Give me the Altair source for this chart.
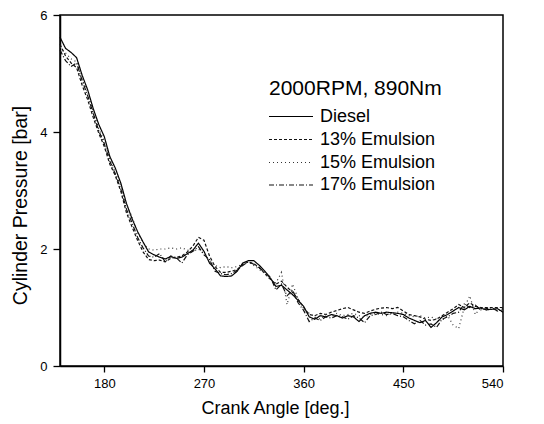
import altair as alt
import pandas as pd

angle = [140, 145, 150, 155, 160, 165, 170, 175, 180, 185, 190, 195, 200, 205, 210, 215,
         220, 225, 230, 235, 240, 245, 250, 255, 260, 265, 270, 275, 280, 285, 290, 295,
         300, 305, 310, 315, 320, 325, 330, 335, 340, 345, 350, 355, 360, 365, 370, 375,
         380, 385, 390, 395, 400, 405, 410, 415, 420, 425, 430, 435, 440, 445, 450, 455,
         460, 465, 470, 475, 480, 485, 490, 495, 500, 505, 510, 515, 520, 525, 530, 535, 540]

diesel = [5.62, 5.43, 5.36, 5.27, 4.97, 4.72, 4.40, 4.13, 3.92, 3.58, 3.38, 3.12, 2.78, 2.52, 2.30, 2.12,
          1.95, 1.90, 1.86, 1.83, 1.87, 1.84, 1.86, 1.92, 1.98, 2.10, 1.96, 1.76, 1.66, 1.54, 1.53, 1.54,
          1.62, 1.76, 1.80, 1.80, 1.72, 1.62, 1.50, 1.36, 1.38, 1.30, 1.22, 1.12, 1.02, 0.84, 0.80, 0.86,
          0.84, 0.88, 0.86, 0.82, 0.86, 0.84, 0.76, 0.86, 0.90, 0.92, 0.90, 0.92, 0.91, 0.90, 0.88, 0.82,
          0.78, 0.74, 0.78, 0.66, 0.74, 0.84, 0.88, 0.94, 1.00, 0.96, 1.02, 0.98, 0.99, 0.96, 0.97, 0.98, 0.92]

emul13 = [5.50, 5.30, 5.18, 5.10, 4.80, 4.55, 4.25, 3.98, 3.75, 3.45, 3.25, 2.98, 2.62, 2.38, 2.15, 1.95,
          1.82, 1.80, 1.81, 1.78, 1.84, 1.86, 1.88, 1.95, 2.05, 2.20, 2.15, 1.88, 1.70, 1.60, 1.60, 1.62,
          1.65, 1.74, 1.78, 1.75, 1.68, 1.58, 1.48, 1.40, 1.45, 1.35, 1.26, 1.14, 1.00, 0.88, 0.86, 0.90,
          0.88, 0.92, 0.95, 0.98, 1.00, 0.96, 0.92, 0.90, 0.94, 0.97, 0.99, 1.00, 0.98, 1.00, 0.94, 0.88,
          0.86, 0.84, 0.80, 0.78, 0.80, 0.86, 0.92, 0.98, 1.05, 1.00, 1.08, 1.02, 1.00, 1.00, 1.00, 1.00, 1.00]

emul15 = [5.45, 5.35, 5.25, 5.20, 4.90, 4.68, 4.35, 4.05, 3.85, 3.55, 3.30, 3.08, 2.75, 2.55, 2.28, 2.10,
          2.00, 1.98, 2.00, 2.00, 2.02, 2.00, 2.02, 1.98, 1.96, 2.00, 1.92, 1.80, 1.72, 1.68, 1.70, 1.68,
          1.70, 1.74, 1.78, 1.72, 1.65, 1.58, 1.48, 1.42, 1.60, 1.05, 1.40, 1.15, 0.98, 0.90, 0.84, 0.80,
          0.88, 0.85, 0.90, 0.86, 0.88, 0.90, 0.86, 0.84, 0.88, 0.90, 0.88, 0.86, 0.90, 0.92, 0.90, 0.86,
          0.84, 0.86, 0.82, 0.84, 0.80, 0.78, 0.86, 0.70, 0.64, 1.00, 1.20, 0.88, 1.00, 0.96, 0.98, 0.94, 0.96]

emul17 = [5.40, 5.22, 5.12, 5.18, 4.88, 4.62, 4.32, 4.02, 3.80, 3.50, 3.28, 3.02, 2.68, 2.45, 2.20, 2.02,
          1.88, 1.86, 1.92, 1.78, 1.88, 1.85, 1.76, 1.90, 1.96, 2.04, 1.90, 1.82, 1.62, 1.58, 1.56, 1.58,
          1.64, 1.72, 1.78, 1.74, 1.68, 1.60, 1.52, 1.30, 1.40, 1.20, 1.30, 1.08, 0.95, 0.76, 0.82, 0.78,
          0.84, 0.82, 0.86, 0.84, 0.80, 0.86, 0.82, 0.74, 0.86, 0.88, 0.92, 0.88, 0.90, 0.86, 0.84, 0.78,
          0.72, 0.78, 0.70, 0.72, 0.66, 0.80, 0.84, 0.90, 0.92, 1.06, 1.00, 1.04, 0.96, 0.98, 1.00, 0.94, 0.98]

series_names = ["Diesel", "13% Emulsion", "15% Emulsion", "17% Emulsion"]
series_values = [diesel, emul13, emul15, emul17]
dashes = [[1, 0], [3, 2], [1, 3], [5, 2, 1, 2]]
colors = ["#000000", "#111111", "#333333", "#111111"]

x_ticks = [180, 270, 360, 450, 540]
y_ticks = [0, 2, 4, 6]
legend_title = "2000RPM, 890Nm"

rows = []
for name, vals in zip(series_names, series_values):
    for a, p in zip(angle, vals):
        rows.append({"angle": a, "pressure": p, "fuel": name})
df = pd.DataFrame(rows)

FONT = "Liberation Sans"

lines = alt.Chart(df).mark_line(strokeWidth=1.2).encode(
    x=alt.X("angle:Q", scale=alt.Scale(domain=[140, 540], nice=False, zero=False),
            axis=alt.Axis(values=x_ticks, title="Crank Angle [deg.]", grid=False,
                          tickSize=6, labelPadding=5, labelFontSize=13, titleFontSize=18,
                          titlePadding=9, titleFontWeight="normal", titleX=215)),
    y=alt.Y("pressure:Q", scale=alt.Scale(domain=[0, 6], nice=False),
            axis=alt.Axis(values=y_ticks, title="Cylinder Pressure [bar]", grid=False,
                          tickSize=7, labelPadding=6, labelFontSize=13, titleFontSize=19.5,
                          titlePadding=9, titleFontWeight="normal", titleY=190)),
    strokeDash=alt.StrokeDash("fuel:N", scale=alt.Scale(domain=series_names, range=dashes), legend=None),
    color=alt.Color("fuel:N", scale=alt.Scale(domain=series_names, range=colors), legend=None),
    detail="fuel:N",
    order="angle:Q",
)

layers = [lines]

title_df = pd.DataFrame({"t": [legend_title]})
layers.append(alt.Chart(title_df).mark_text(align="left", baseline="middle", fontSize=21, font=FONT,
                                            color="black").encode(
    x=alt.value(209), y=alt.value(74), text="t:N"))

row_y = [101.5, 124.5, 147.5, 170]
for name, dash, col, yy in zip(series_names, dashes, colors, row_y):
    ldf = pd.DataFrame({"name": [name]})
    layers.append(alt.Chart(ldf).mark_rule(strokeWidth=1.1, strokeDash=dash, color=col).encode(
        x=alt.value(209), x2=alt.value(253), y=alt.value(yy)))
    layers.append(alt.Chart(ldf).mark_text(align="left", baseline="middle", fontSize=18, font=FONT,
                                           color="black").encode(
        x=alt.value(260), y=alt.value(yy), text="name:N"))

chart = alt.layer(*layers).properties(
    width=443, height=351,
    autosize=alt.AutoSizeParams(type="none"),
    padding={"left": 60, "top": 15, "right": 41, "bottom": 58},
    background="white",
).configure_view(stroke="black", strokeWidth=1.5).configure_axis(
    domainColor="black", domainWidth=1.5, tickColor="black", tickWidth=1.3,
    labelColor="black", titleColor="black", labelFont=FONT, titleFont=FONT,
)

chart.save("out.html", embed_options={"renderer": "svg", "actions": False})
